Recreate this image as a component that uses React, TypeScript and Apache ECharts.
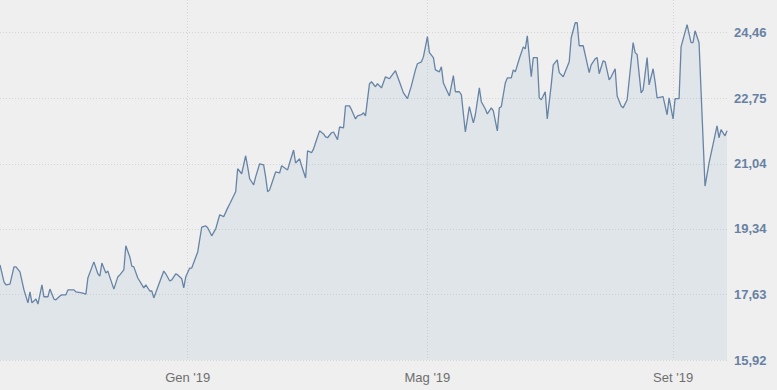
import React, { useEffect, useRef } from "react";
import * as echarts from "echarts";

const dates: string[] = [
  "2018-09-29",
  "2018-10-01", "2018-10-02", "2018-10-04", "2018-10-06", "2018-10-07", "2018-10-09", "2018-10-11", "2018-10-13", "2018-10-14", "2018-10-15",
  "2018-10-17", "2018-10-18", "2018-10-20", "2018-10-21", "2018-10-23", "2018-10-24", "2018-10-26", "2018-10-27", "2018-10-29", "2018-10-30",
  "2018-11-01", "2018-11-02", "2018-11-05", "2018-11-06", "2018-11-09", "2018-11-11", "2018-11-12", "2018-11-15", "2018-11-17", "2018-11-18",
  "2018-11-19", "2018-11-21", "2018-11-22", "2018-11-25", "2018-11-27", "2018-11-28", "2018-11-30",
  "2018-12-01", "2018-12-03", "2018-12-04", "2018-12-05", "2018-12-07", "2018-12-10", "2018-12-11", "2018-12-13", "2018-12-14", "2018-12-15",
  "2018-12-18", "2018-12-20", "2018-12-21", "2018-12-23", "2018-12-24", "2018-12-26", "2018-12-27", "2018-12-29", "2018-12-30", "2018-12-31",
  "2019-01-02", "2019-01-03", "2019-01-06", "2019-01-08", "2019-01-10", "2019-01-11", "2019-01-13", "2019-01-15", "2019-01-17", "2019-01-19",
  "2019-01-21", "2019-01-22", "2019-01-25", "2019-01-26", "2019-01-28", "2019-01-30", "2019-01-31",
  "2019-02-01", "2019-02-03", "2019-02-04", "2019-02-06", "2019-02-08", "2019-02-09", "2019-02-10", "2019-02-11", "2019-02-13", "2019-02-14",
  "2019-02-16", "2019-02-17", "2019-02-20", "2019-02-21", "2019-02-23", "2019-02-24", "2019-02-26", "2019-02-27",
  "2019-03-01", "2019-03-02", "2019-03-04", "2019-03-05", "2019-03-06", "2019-03-08", "2019-03-10", "2019-03-11", "2019-03-12", "2019-03-14",
  "2019-03-15", "2019-03-17", "2019-03-18", "2019-03-20", "2019-03-21", "2019-03-23", "2019-03-24", "2019-03-26", "2019-03-27", "2019-03-29",
  "2019-03-30", "2019-03-31",
  "2019-04-02", "2019-04-03", "2019-04-05", "2019-04-06", "2019-04-08", "2019-04-10", "2019-04-12", "2019-04-15", "2019-04-17", "2019-04-19",
  "2019-04-21", "2019-04-23", "2019-04-25", "2019-04-26", "2019-04-28", "2019-04-29",
  "2019-05-01", "2019-05-02", "2019-05-04", "2019-05-05", "2019-05-07", "2019-05-08", "2019-05-09", "2019-05-12", "2019-05-14", "2019-05-15",
  "2019-05-17", "2019-05-18", "2019-05-20", "2019-05-22", "2019-05-24", "2019-05-25", "2019-05-27", "2019-05-28", "2019-05-30", "2019-05-31",
  "2019-06-02", "2019-06-03", "2019-06-05", "2019-06-06", "2019-06-07", "2019-06-09", "2019-06-10", "2019-06-12", "2019-06-13", "2019-06-14",
  "2019-06-16", "2019-06-18", "2019-06-19", "2019-06-20", "2019-06-22", "2019-06-23", "2019-06-25", "2019-06-26", "2019-06-27", "2019-06-29",
  "2019-06-30",
  "2019-07-02", "2019-07-03", "2019-07-05", "2019-07-06", "2019-07-08", "2019-07-09", "2019-07-11", "2019-07-12", "2019-07-14", "2019-07-15",
  "2019-07-16", "2019-07-18", "2019-07-19", "2019-07-21", "2019-07-22", "2019-07-24", "2019-07-25", "2019-07-26", "2019-07-28", "2019-07-29",
  "2019-07-31",
  "2019-08-01", "2019-08-03", "2019-08-04", "2019-08-06", "2019-08-07", "2019-08-09", "2019-08-12", "2019-08-13", "2019-08-14", "2019-08-16",
  "2019-08-17", "2019-08-19", "2019-08-20", "2019-08-22", "2019-08-23", "2019-08-24", "2019-08-27", "2019-08-29", "2019-08-30",
  "2019-09-01", "2019-09-02", "2019-09-04", "2019-09-05", "2019-09-08", "2019-09-10", "2019-09-11", "2019-09-12", "2019-09-14", "2019-09-17",
  "2019-09-19", "2019-09-23", "2019-09-24", "2019-09-25", "2019-09-27", "2019-09-28",
];

const prices: number[] = [
  18.40,
  17.96, 17.88, 17.90, 18.35, 18.35, 18.22, 17.75, 17.41, 17.70, 17.41,
  17.51, 17.38, 17.88, 17.57, 17.57, 17.77, 17.51, 17.49, 17.59, 17.62,
  17.62, 17.75, 17.75, 17.70, 17.67, 17.64, 18.06, 18.48, 18.17, 18.11,
  18.45, 18.19, 18.24, 17.77, 18.09, 18.14, 18.27,
  18.90, 18.61, 18.37, 18.35, 18.06, 17.80, 17.88, 17.72, 17.72, 17.54,
  17.96, 18.24, 18.17, 17.98, 18.01, 18.17, 18.14, 18.04, 17.80, 18.09,
  18.32, 18.32, 18.74, 19.39, 19.42, 19.37, 19.16, 19.34, 19.71, 19.66,
  19.89, 19.99, 20.31, 20.91, 20.78, 21.25, 20.96,
  20.65, 20.49, 20.70, 21.04, 21.01, 20.70, 20.31, 20.36, 20.67, 20.83,
  20.80, 20.99, 20.88, 21.06, 21.40, 21.06, 21.17, 20.99,
  20.67, 21.38, 21.33, 21.43, 21.59, 21.90, 21.82, 21.74, 21.72, 21.85,
  21.87, 21.67, 22.00, 21.98, 22.55, 22.55, 22.45, 22.21, 22.29, 22.32,
  22.37, 22.29,
  23.13, 23.18, 23.05, 23.13, 23.02, 23.31, 23.26, 23.47, 23.18, 22.89,
  22.74, 23.08, 23.49, 23.65, 23.70, 23.83,
  24.36, 23.94, 23.81, 23.49, 23.44, 23.57, 23.15, 22.81, 23.34, 22.92,
  22.92, 22.84, 21.87, 22.53, 22.11, 22.32, 23.02, 22.66, 22.47, 22.34,
  22.50, 22.42, 21.90, 22.50, 22.53, 23.15, 23.28, 23.28, 23.49, 23.44,
  23.78, 24.09, 24.04, 24.38, 23.31, 23.81, 23.81, 22.76, 22.71, 22.92,
  22.21,
  23.10, 23.62, 23.75, 23.42, 23.31, 23.44, 23.70, 24.33, 24.72, 24.72,
  24.12, 24.12, 23.89, 23.42, 23.62, 23.78, 23.81, 23.39, 23.73, 23.70,
  23.23,
  23.31, 23.52, 22.81, 22.55, 22.50, 22.71, 24.20, 23.94, 23.89, 22.89,
  22.97, 23.81, 23.10, 23.52, 23.18, 22.76, 22.79, 22.32, 22.76,
  22.21, 22.74, 22.74, 24.09, 24.67, 24.20, 24.20, 24.51, 24.20, 20.46,
  21.06, 22.03, 21.72, 21.93, 21.77, 21.90,
];

const yTicks: number[] = [15.92, 17.63, 19.34, 21.04, 22.75, 24.46];
const yMin = 15.92;
const yMax = 25.314;

const xTickDates: string[] = ["2019-01-01", "2019-05-01", "2019-09-01"];
const xTickLabels: string[] = ["Gen '19", "Mag '19", "Set '19"];

const toTime = (s: string) => new Date(s + "T00:00:00").getTime();

export default function App() {
  const ref = useRef<HTMLDivElement>(null);

  useEffect(() => {
    if (!ref.current) return;
    const chart = echarts.init(ref.current, undefined, { renderer: "svg" });
    const xTickTimes = xTickDates.map(toTime);
    const gridColor = "#d2d4d6";

    chart.setOption({
      animation: false,
      backgroundColor: "#efefef",
      grid: { left: 0, right: 50, top: 0, bottom: 30, containLabel: false },
      xAxis: {
        type: "value",
        min: "dataMin",
        max: "dataMax",
        axisLine: { show: false },
        axisTick: { show: false, customValues: xTickTimes },
        axisLabel: {
          customValues: xTickTimes,
          color: "#6e6e6e",
          fontSize: 13,
          fontFamily: "Arial, 'Liberation Sans', sans-serif",
          margin: 11,
          formatter: (v: number) => {
            const i = xTickTimes.indexOf(v);
            return i >= 0 ? xTickLabels[i] : "";
          },
        },
        splitLine: {
          show: true,
          lineStyle: { color: gridColor, type: [1, 2], width: 1 },
        },
      },
      yAxis: {
        type: "value",
        position: "right",
        min: yMin,
        max: yMax,
        axisLine: { show: false },
        axisTick: { show: false, customValues: yTicks },
        axisLabel: {
          customValues: yTicks,
          color: "#6881a3",
          fontSize: 13,
          fontWeight: "bold",
          fontFamily: "Arial, 'Liberation Sans', sans-serif",
          margin: 7,
          formatter: (v: number) => v.toFixed(2).replace(".", ","),
        },
        splitLine: {
          show: true,
          lineStyle: { color: gridColor, type: [1, 2], width: 1 },
        },
      },
      series: [
        {
          type: "line",
          data: dates.map((d, i) => [toTime(d), prices[i]]),
          showSymbol: false,
          symbol: "none",
          lineStyle: { color: "#6784a6", width: 1.3 },
          areaStyle: { color: "rgba(146,179,206,0.16)", opacity: 1 },
          emphasis: { disabled: true },
        },
      ],
    });

    return () => chart.dispose();
  }, []);

  return (
    <div
      ref={ref}
      style={{ position: "fixed", left: 0, top: 0, width: 777, height: 390 }}
    />
  );
}
